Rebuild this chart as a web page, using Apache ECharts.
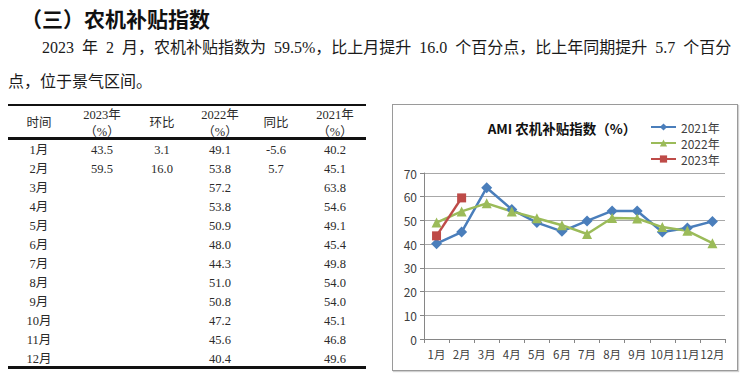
<!DOCTYPE html>
<html><head><meta charset="utf-8">
<script src="https://cdn.jsdelivr.net/npm/echarts@6/dist/echarts.min.js"></script>
<style>
html,body{margin:0;padding:0;background:#fff}
body{width:750px;height:373px;overflow:hidden;position:relative;font-family:"Liberation Serif","Noto Sans CJK SC",serif;color:#1a1a1a}
.t{position:absolute;white-space:nowrap;line-height:1}
.h{font-family:"Noto Sans CJK SC",sans-serif;font-weight:bold;font-size:21px;left:21px;top:8px;color:#111}
.p{font-size:16px;color:#1a1a1a;word-spacing:4px}
.c{position:absolute;white-space:nowrap;line-height:1;font-size:12.5px;transform:translate(-50%,-50%);color:#2a2a2a}
.ln{position:absolute;left:8px;width:358px;background:#111}
#chart{position:absolute;left:392px;top:104px;width:344px;height:265px;border:1px solid #9a9a9a;box-shadow:1px 1px 1px #d0d0d0}
</style>
</head><body>
<div class="t h">（三）农机补贴指数</div>
<div class="t p" style="left:42px;top:40px">2023 年 2 月，农机补贴指数为 59.5%，比上月提升 16.0 个百分点，比上年同期提升 5.7 个百分</div>
<div class="t p" style="left:8px;top:74px">点，位于景气区间。</div>
<div class="ln" style="top:104px;height:1.5px"></div>
<div class="ln" style="top:137px;height:3px"></div>
<div class="ln" style="top:366px;height:2.5px"></div>
<div id="table"></div>
<div id="chart"></div>
<script>
const months = ['1月','2月','3月','4月','5月','6月','7月','8月','9月','10月','11月','12月'];
const v2023 = [43.5, 59.5];
const mom2023 = [3.1, 16.0];
const v2022 = [49.1, 53.8, 57.2, 53.8, 50.9, 48.0, 44.3, 51.0, 50.8, 47.2, 45.6, 40.4];
const yoy2023 = [-5.6, 5.7];
const v2021 = [40.2, 45.1, 63.8, 54.6, 49.1, 45.4, 49.8, 54.0, 54.0, 45.1, 46.8, 49.6];
const headers = [['时间'], ['2023年','（%）'], ['环比'], ['2022年','（%）'], ['同比'], ['2021年','（%）']];
const seriesNames = ['2021年','2022年','2023年'];

// table
const tbl = document.getElementById('table');
const colX = [39, 102, 162, 220, 276, 335];
function cell(txt, x, y){
  const d = document.createElement('div');
  d.className = 'c'; d.textContent = txt;
  d.style.left = x + 'px'; d.style.top = y + 'px';
  tbl.appendChild(d);
}
headers.forEach((h, i) => {
  if (h.length === 1) cell(h[0], colX[i], 123);
  else { cell(h[0], colX[i], 115); cell(h[1], colX[i], 132); }
});
const cols = [months, v2023, mom2023, v2022, yoy2023, v2021];
cols.forEach((col, ci) => {
  col.forEach((v, ri) => {
    const txt = typeof v === 'number' ? v.toFixed(1) : v;
    cell(txt, colX[ci], 150 + ri * 19);
  });
});

// chart
const chart = echarts.init(document.getElementById('chart'), null, {renderer: 'svg'});
const lbl = {fontFamily: '"Noto Sans CJK SC", sans-serif', fontSize: 11.5, color: '#404040'};
chart.setOption({
  animation: false,
  graphic: [{
    type: 'text', x: 169, y: 23,
    style: {text: 'AMI 农机补贴指数（%）', textAlign: 'center', textVerticalAlign: 'middle',
      font: 'bold 13.5px "Noto Sans CJK SC", sans-serif', fill: '#111'}
  }],
  legend: {
    orient: 'vertical', left: 257, top: 16, padding: 0,
    itemWidth: 25, itemHeight: 9, itemGap: 4,
    textStyle: Object.assign({}, lbl, {fontSize: 12}),
    data: seriesNames
  },
  grid: {left: 31, right: 12, top: 68, bottom: 31},
  xAxis: {
    type: 'category', data: months, boundaryGap: true,
    axisLine: {lineStyle: {color: '#868686', width: 1}},
    axisTick: {show: true, length: 4, alignWithLabel: false, lineStyle: {color: '#868686'}},
    axisLabel: Object.assign({interval: 0, margin: 9}, lbl)
  },
  yAxis: {
    type: 'value', min: 0, max: 70, interval: 10,
    axisLine: {show: true, lineStyle: {color: '#868686', width: 1}},
    axisTick: {show: true, length: 4, lineStyle: {color: '#868686'}},
    axisLabel: Object.assign({margin: 7}, lbl, {fontSize: 12}),
    splitLine: {lineStyle: {color: '#a8a8a8', width: 1}}
  },
  series: [
    {name: seriesNames[0], type: 'line', data: v2021, symbol: 'diamond', symbolSize: 11,
     lineStyle: {width: 2.5, color: '#4A7EBB'}, itemStyle: {color: '#4A7EBB'}},
    {name: seriesNames[1], type: 'line', data: v2022, symbol: 'triangle', symbolSize: 10,
     lineStyle: {width: 2.5, color: '#9BBB59'}, itemStyle: {color: '#9BBB59'}},
    {name: seriesNames[2], type: 'line', data: v2023, symbol: 'rect', symbolSize: 9,
     lineStyle: {width: 2.5, color: '#BE4B48'}, itemStyle: {color: '#BE4B48'}}
  ]
});
</script>
</body></html>
